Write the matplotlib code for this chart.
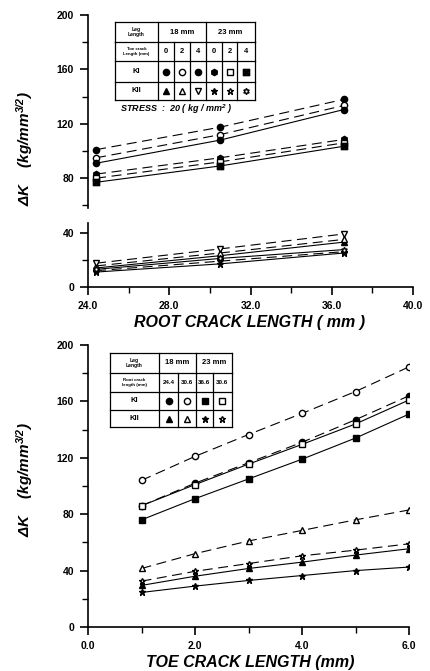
import matplotlib
matplotlib.use("Agg")
import matplotlib.pyplot as plt
from matplotlib.ticker import MultipleLocator, FormatStrFormatter

plt.rcParams['font.family'] = ['Liberation Sans', 'DejaVu Sans']
plt.rcParams['font.weight'] = 'bold'
plt.rcParams['mathtext.default'] = 'regular'

# ---- data : top panel (root crack length) ----
root_x = [24.4, 30.5, 36.6]
ki18_t0 = [101, 117.5, 138]
ki18_t2 = [95, 112, 133.5]
ki18_t4 = [91, 108, 130.5]
ki23_t0 = [83, 95, 108.5]
ki23_t2 = [80, 92, 106]
ki23_t4 = [77, 89, 103.5]
kii18_t0 = [14, 23, 33]
kii18_t2 = [15.5, 25, 35]
kii18_t4 = [17.5, 28, 39]
kii23_t0 = [11, 17, 25]
kii23_t2 = [12, 19, 26]
kii23_t4 = [13, 21, 27.5]

# ---- data : bottom panel (toe crack length) ----
toe_x = [1, 2, 3, 4, 5, 6]
ki_244 = [86, 102, 116.5, 131, 147, 164]
ki_306 = [104, 121, 136.5, 151.5, 167, 184.5]
ki_366 = [76, 91, 105, 119, 134, 151]
ki_306b = [86, 101, 115.5, 129.5, 144, 161]
kii_244 = [29.5, 36, 41.5, 46, 51, 55.5]
kii_306 = [41.5, 52, 61, 68.5, 76, 83]
kii_366 = [24.5, 29, 33, 36.5, 40, 42.5]
kii_306b = [32.5, 39.5, 45, 50.5, 54.5, 59]

top_toe_labels = ['0', '2', '4', '0', '2', '4']
bot_root_labels = ['24.4', '30.6', '36.6', '30.6']

DASH = (0, (9, 5))
OPEN = dict(markerfacecolor='white')
W, H = 430, 671


def px_rect(x0, y0, x1, y1):
    return [x0 / W, 1 - y1 / H, (x1 - x0) / W, (y1 - y0) / H]


def style_axes(ax):
    for s in ['top', 'right']:
        ax.spines[s].set_visible(False)
    ax.spines['bottom'].set_linewidth(1.2)
    ax.spines['left'].set_linewidth(1.2)
    ax.tick_params(which='major', direction='out', length=6, width=1.2,
                   labelsize=7.5, pad=4)
    ax.tick_params(which='minor', direction='out', length=4, width=1)


def draw_table(rect, cols, rows, header, sub_label, sub_vals, ki_marks, kii_marks):
    t = fig.add_axes(rect)
    w, h = cols[-1], rows[-1]
    t.set_xlim(0, w)
    t.set_ylim(h, 0)
    t.axis('off')
    lw = 0.9
    for y in rows:
        t.plot([0, w], [y, y], color='black', lw=lw, clip_on=False)
    # header row verticals
    for x in header['vlines']:
        t.plot([x, x], [rows[0], rows[1]], color='black', lw=lw, clip_on=False)
    for x in cols:
        t.plot([x, x], [rows[1], rows[-1]], color='black', lw=lw, clip_on=False)
    t.text(cols[1] / 2, rows[1] / 2, 'Leg\nLength', ha='center', va='center',
           fontsize=3.6, linespacing=1.1)
    for txt, (a, b) in header['spans']:
        t.text((a + b) / 2, rows[1] / 2, txt, ha='center', va='center',
               fontsize=5.5)
    t.text(cols[1] / 2, (rows[1] + rows[2]) / 2, sub_label, ha='center',
           va='center', fontsize=3.2, linespacing=1.1)
    cen = [(cols[i] + cols[i + 1]) / 2 for i in range(1, len(cols) - 1)]
    for c, v in zip(cen, sub_vals):
        t.text(c, (rows[1] + rows[2]) / 2, v, ha='center', va='center',
               fontsize=4.5 if len(v) > 1 else 5.5)
    t.text(cols[1] / 2, (rows[2] + rows[3]) / 2, 'KI', ha='center',
           va='center', fontsize=5.5)
    t.text(cols[1] / 2, (rows[3] + rows[4]) / 2, 'KII', ha='center',
           va='center', fontsize=5.5)
    for c, m in zip(cen, ki_marks):
        t.plot(c, (rows[2] + rows[3]) / 2, color='black', ms=4.5,
               clip_on=False, **m)
    for c, m in zip(cen, kii_marks):
        t.plot(c, (rows[3] + rows[4]) / 2, color='black', ms=4.5,
               clip_on=False, **m)


fig = plt.figure(figsize=(4.3, 6.71), dpi=100)

# ---------------- top panel ----------------
ax1 = fig.add_axes(px_rect(88, 15, 413, 287))
ax1.set_xlim(24, 40)
ax1.set_ylim(0, 200)
ax1.xaxis.set_major_locator(MultipleLocator(4))
ax1.xaxis.set_minor_locator(MultipleLocator(2))
ax1.yaxis.set_major_locator(MultipleLocator(40))
ax1.yaxis.set_minor_locator(MultipleLocator(20))
ax1.xaxis.set_major_formatter(FormatStrFormatter('%.1f'))
ax1.spines['left'].set_visible(False)
ax1.axvline(24, ymin=0, ymax=0.235, color='black', lw=1.2, clip_on=False)
ax1.axvline(24, ymin=0.29, ymax=1, color='black', lw=1.2, clip_on=False)

kw = dict(color='black', lw=0.8, ms=4.5)
ax1.plot(root_x, ki18_t0, marker='o', ls=DASH, **kw)
ax1.plot(root_x, ki18_t2, marker='o', ls=DASH, **OPEN, **kw)
ax1.plot(root_x, ki18_t4, marker='$\\oplus$', ls='-', **kw)
ax1.plot(root_x, ki23_t0, marker='h', ls=DASH, **kw)
ax1.plot(root_x, ki23_t2, marker='s', ls=DASH, **OPEN, **kw)
ax1.plot(root_x, ki23_t4, marker='$\\boxtimes$', ls='-', **kw)
ax1.plot(root_x, kii18_t0, marker='^', ls='-', **kw)
ax1.plot(root_x, kii18_t2, marker='^', ls=DASH, **OPEN, **kw)
ax1.plot(root_x, kii18_t4, marker='v', ls=DASH, **OPEN, **kw)
ax1.plot(root_x, kii23_t0, marker='*', ls='-', **kw)
ax1.plot(root_x, kii23_t2, marker='*', ls=DASH, **OPEN, **kw)
ax1.plot(root_x, kii23_t4, marker=(6, 1, 0), ls='-', **OPEN, **kw)
style_axes(ax1)

draw_table(px_rect(115, 22, 255, 100),
           [0, 43, 59, 75, 91, 107, 122, 140], [0, 20, 39, 60, 78],
           dict(vlines=[0, 43, 91, 140],
                spans=[('18 mm', (43, 91)), ('23 mm', (91, 140))]),
           'Toe crack\nLength (mm)', top_toe_labels,
           [dict(marker='o'), dict(marker='o', **OPEN),
            dict(marker='$\\oplus$'), dict(marker='h'),
            dict(marker='s', **OPEN), dict(marker='$\\boxtimes$')],
           [dict(marker='^'), dict(marker='^', **OPEN),
            dict(marker='v', **OPEN), dict(marker='*'),
            dict(marker='*', **OPEN), dict(marker=(6, 1, 0), **OPEN)])
fig.text(120 / W, 1 - 109 / H, 'STRESS  :  20 ( kg / mm$^{2}$ )',
         fontsize=6.5, style='italic', va='center')

fig.text(250 / W, 1 - 322 / H, 'ROOT CRACK LENGTH ( mm )', fontsize=11.5,
         style='italic', ha='center', va='center')
fig.text(25 / W, 1 - 149 / H, '$\\Delta$K    (kg/mm$^{3/2}$)', rotation=90,
         fontsize=11, style='italic', ha='center', va='center')

# ---------------- bottom panel ----------------
ax2 = fig.add_axes(px_rect(88, 345, 409, 627))
ax2.set_xlim(0, 6)
ax2.set_ylim(0, 200)
ax2.xaxis.set_major_locator(MultipleLocator(2))
ax2.xaxis.set_minor_locator(MultipleLocator(1))
ax2.yaxis.set_major_locator(MultipleLocator(40))
ax2.yaxis.set_minor_locator(MultipleLocator(20))
ax2.xaxis.set_major_formatter(FormatStrFormatter('%.1f'))

ax2.plot(toe_x, ki_244, marker='o', ls=DASH, **kw)
ax2.plot(toe_x, ki_306, marker='o', ls=DASH, **OPEN, **kw)
ax2.plot(toe_x, ki_366, marker='s', ls='-', **kw)
ax2.plot(toe_x, ki_306b, marker='s', ls='-', **OPEN, **kw)
ax2.plot(toe_x, kii_244, marker='^', ls='-', **kw)
ax2.plot(toe_x, kii_306, marker='^', ls=DASH, **OPEN, **kw)
ax2.plot(toe_x, kii_366, marker='*', ls='-', **kw)
ax2.plot(toe_x, kii_306b, marker='*', ls=DASH, **OPEN, **kw)
style_axes(ax2)

draw_table(px_rect(110, 353, 232, 427),
           [0, 49, 68, 86, 103, 122], [0, 20, 39, 57, 74],
           dict(vlines=[0, 49, 86, 122],
                spans=[('18 mm', (49, 86)), ('23 mm', (86, 122))]),
           'Root crack\nlength (mm)', bot_root_labels,
           [dict(marker='o'), dict(marker='o', **OPEN),
            dict(marker='s'), dict(marker='s', **OPEN)],
           [dict(marker='^'), dict(marker='^', **OPEN),
            dict(marker='*'), dict(marker='*', **OPEN)])

fig.text(250 / W, 1 - 663 / H, 'TOE CRACK LENGTH (mm)', fontsize=11.5,
         style='italic', ha='center', va='center')
fig.text(25 / W, 1 - 480 / H, '$\\Delta$K    (kg/mm$^{3/2}$)', rotation=90,
         fontsize=11, style='italic', ha='center', va='center')

fig.savefig('out.png', dpi=100)
